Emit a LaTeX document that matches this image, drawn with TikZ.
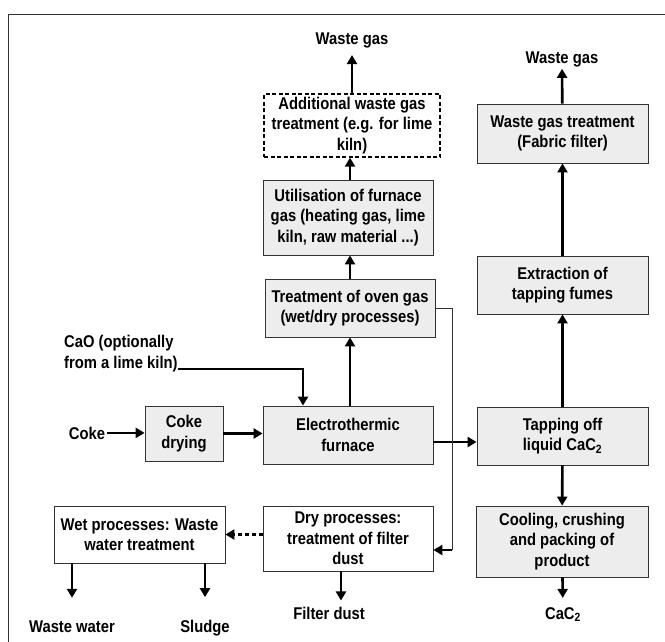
\documentclass[tikz,border=0pt]{standalone}
\usepackage{fontspec}
\setmainfont{Liberation Sans}[FakeStretch=0.87]
\usepackage{tikz}
\usetikzlibrary{positioning,arrows.meta}
\definecolor{boxgray}{HTML}{EDEDED}
\definecolor{edge}{HTML}{333333}

\begin{document}
\begin{tikzpicture}[x=1pt, y=1pt,
  st/.style={draw=edge, line width=0.8pt, fill=boxgray, align=center, font=\fontsize{17}{20.5}\selectfont\bfseries, inner sep=0pt},
  wbox/.style={st, fill=white},
  dbox/.style={st, fill=white, draw=black, line width=1.3pt, dash pattern=on 4pt off 2.5pt},
  lbl/.style={align=center, font=\fontsize{17}{20.5}\selectfont\bfseries, inner sep=2pt},
  arr/.style={-{Triangle[length=9pt, width=10pt]}, line width=2.6pt},
  link/.style={line width=0.9pt, edge}]
  \useasboundingbox (0,0) rectangle (665,-641);
  \draw[line width=1.3pt, edge] (8.5,-660) |- (680,-14.5);
  \node[dbox, minimum width=176pt, minimum height=63pt] (addgas) at (352,-125.5) {Additional waste gas\\treatment (e.g. for lime\\kiln)};
  \node[st, minimum width=170pt, minimum height=75pt] (util) at (348,-217.5) {Utilisation of furnace\\gas (heating gas, lime\\kiln, raw material ...)};
  \node[st, minimum width=170pt, minimum height=58pt] (treat) at (350,-308) {Treatment of oven gas\\(wet/dry processes)};
  \node[st, minimum width=170pt, minimum height=58pt] (furnace) at (348,-435) {Electrothermic\\furnace};
  \node[wbox, minimum width=170pt, minimum height=65pt] (dry) at (348,-538.5) {Dry processes:\\treatment of filter\\dust};
  \node[st, minimum width=78pt, minimum height=55pt] (cokedry) at (184,-433.5) {Coke\\drying};
  \node[wbox, minimum width=171pt, minimum height=57pt] (wet) at (139.5,-534.5) {Wet processes: Waste\\water treatment};
  \node[st, minimum width=171pt, minimum height=59pt] (wgt) at (562.5,-133.5) {Waste gas treatment\\(Fabric filter)};
  \node[st, minimum width=171pt, minimum height=58pt] (extract) at (562.5,-285) {Extraction of\\tapping fumes};
  \node[st, minimum width=171pt, minimum height=58pt] (tap) at (562.5,-436) {Tapping off\\liquid CaC\textsubscript{2}};
  \node[st, minimum width=172pt, minimum height=71pt] (cool) at (562,-541.5) {Cooling, crushing\\and packing of\\product};
  \node[lbl, anchor=base] (gas1) at (352,-44.3) {Waste gas};
  \node[lbl, anchor=base] (gas2) at (562,-63) {Waste gas};
  \node[lbl, anchor=base] (coke) at (87,-439) {Coke};
  \node[lbl, align=left, inner sep=0pt, anchor=base west] (cao) at (64,-368) {CaO (optionally\\from a lime kiln)};
  \node[lbl, anchor=base] (wwater) at (72,-632.7) {Waste water};
  \node[lbl, anchor=base] (sludge) at (205,-632.7) {Sludge};
  \node[lbl, anchor=base] (fdust) at (329,-619) {Filter dust};
  \node[lbl, anchor=base] (cac) at (563,-619) {CaC\textsubscript{2}};
  \coordinate (drop) at (452,-550);
  \draw[arr, shorten >=5pt] (addgas) -- (gas1);
  \draw[arr] (util.north -| treat) -- (addgas.south -| treat);
  \draw[arr] (treat) -- (treat |- util.south);
  \draw[arr] (furnace.north -| treat) -- (treat.south);
  \draw[arr] (coke) -- (coke -| cokedry.west);
  \draw[arr] (cokedry.east) -- (cokedry.east -| furnace.west);
  \draw[arr] (cao.east |- 0,-369) -| ([xshift=-45pt]furnace.north);
  \draw[arr] ([yshift=-7pt]furnace.east) -- ([yshift=-7pt]furnace.east -| tap.west);
  \draw[link] (treat.east) -| (drop);
  \draw[arr] (drop) -- (drop -| dry.east);
  \draw[arr, dash pattern=on 4pt off 3pt] (dry.west |- wet) -- (wet.east);
  \draw[arr, shorten >=21pt] (wet.south -| wwater) -- (wwater);
  \draw[arr, shorten >=21pt] (wet.south -| sludge) -- (sludge);
  \draw[arr, shorten >=4pt] ([xshift=12pt]fdust.north |- dry.south) -- ([xshift=12pt]fdust.north);
  \draw[arr] (tap) -- (extract);
  \draw[arr] (extract) -- (wgt);
  \draw[arr] (wgt) -- (gas2);
  \draw[arr] (tap) -- (cool);
  \draw[arr, shorten >=7pt] (cool) -- (cac);
\end{tikzpicture}
\end{document}
